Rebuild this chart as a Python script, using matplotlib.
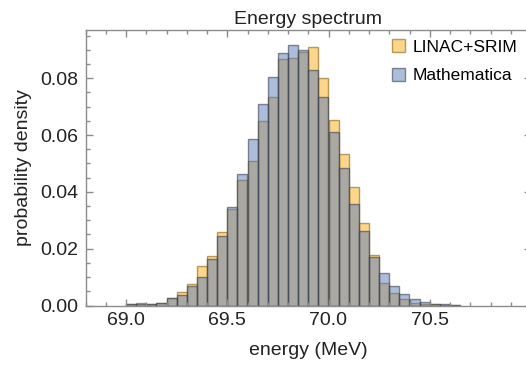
import numpy as np
import matplotlib
matplotlib.use("Agg")
import matplotlib.pyplot as plt
from matplotlib.ticker import MultipleLocator, FixedLocator

plt.rcParams['font.family'] = ['Liberation Sans', 'DejaVu Sans']

# histogram bins: 0.05 MeV wide starting at 69.0 MeV
bin_start = 69.0
bin_width = 0.05

linac_srim = [0.0005, 0.0010, 0.0006, 0.0010, 0.0025, 0.0046, 0.0075, 0.0140, 0.0174, 0.0260,
              0.0340, 0.0443, 0.0509, 0.0648, 0.0733, 0.0867, 0.0871, 0.0891, 0.0911, 0.0800,
              0.0654, 0.0534, 0.0418, 0.0291, 0.0178, 0.0078, 0.0043, 0.0022, 0.0010, 0.0006,
              0.0004, 0.0003, 0.0001]
mathematica = [0.0005, 0.0005, 0.0006, 0.0010, 0.0025, 0.0036, 0.0067, 0.0102, 0.0164, 0.0244,
               0.0347, 0.0464, 0.0587, 0.0709, 0.0806, 0.0888, 0.0918, 0.0899, 0.0830, 0.0733,
               0.0610, 0.0484, 0.0356, 0.0263, 0.0172, 0.0113, 0.0070, 0.0040, 0.0022, 0.0014,
               0.0006, 0.0004, 0.0002]

x_ticks = [69.0, 69.5, 70.0, 70.5]
series_names = ["LINAC+SRIM", "Mathematica"]
face_colors = [(253 / 255, 173 / 255, 25 / 255, 0.5), (89 / 255, 125 / 255, 185 / 255, 0.5)]
edge_colors = [(0.55, 0.38, 0.05, 0.6), (0.22, 0.25, 0.32, 0.6)]

left_edges = bin_start + bin_width * np.arange(len(linac_srim))

fig = plt.figure(figsize=(5.26, 3.67), dpi=100)
ax = fig.add_axes([85.5 / 526, 1 - 305.5 / 367, (531 - 85.5) / 526, (305.5 - 30) / 367])

for vals, name, fc, ec in zip([linac_srim, mathematica], series_names, face_colors, edge_colors):
    ax.bar(left_edges, vals, width=bin_width, align='edge', color=fc,
           edgecolor=ec, linewidth=1.0, label=name)

ax.set_xlim(68.8, 71.0)
ax.set_ylim(0, 0.097)
ax.xaxis.set_major_locator(FixedLocator(x_ticks))
ax.xaxis.set_minor_locator(MultipleLocator(0.1))
ax.yaxis.set_major_locator(MultipleLocator(0.02))
ax.yaxis.set_minor_locator(MultipleLocator(0.005))
ax.xaxis.set_major_formatter(plt.FormatStrFormatter('%.1f'))
ax.yaxis.set_major_formatter(plt.FormatStrFormatter('%.2f'))

frame_gray = '#8c8c8c'
text_col = '#222222'
for s in ax.spines.values():
    s.set_color(frame_gray)
    s.set_linewidth(1.0)
ax.tick_params(which='both', direction='in', top=True, right=True, color=frame_gray,
               labelsize=14, labelcolor=text_col, width=1.0)
ax.tick_params(which='major', length=5, pad=5)
ax.tick_params(which='minor', length=3)

ax.set_title("Energy spectrum", fontsize=14, color=text_col, pad=4)
ax.set_xlabel("energy (MeV)", fontsize=14, color=text_col, labelpad=9)
ax.set_ylabel("probability density", fontsize=14, color=text_col, labelpad=6)

ax.legend(loc='upper left', bbox_to_anchor=(392 / 526, 1 - 39 / 367),
          bbox_transform=fig.transFigure, frameon=False, fontsize=12.5,
          handlelength=0.75, handleheight=0.8, handletextpad=0.45,
          labelspacing=0.75, borderaxespad=0, borderpad=0)

fig.savefig("out.png", dpi=100)
